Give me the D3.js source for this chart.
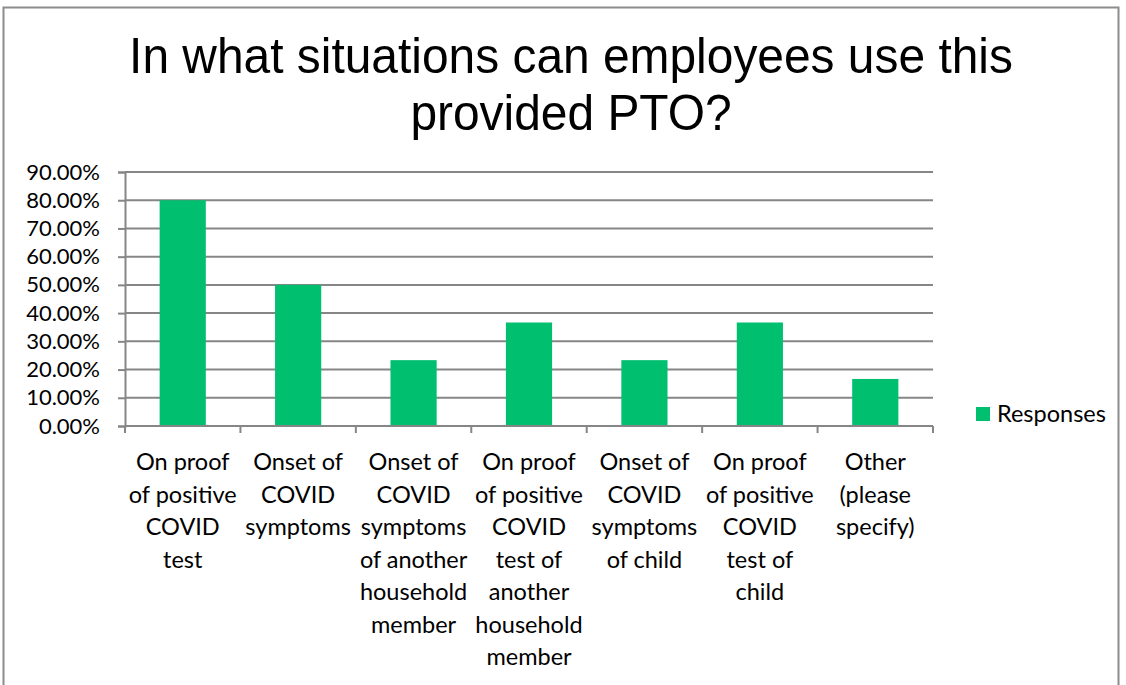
<!DOCTYPE html>
<html>
<head>
<meta charset="utf-8">
<script src="https://cdn.jsdelivr.net/npm/d3@7"></script>
<style>
  body { margin: 0; background: #fff; }
  svg { display: block; }
</style>
</head>
<body>
<div id="chart"></div>
<script>
// chart data
var titleLines = ["In what situations can employees use this", "provided PTO?"];
var categories = [
  ["On proof", "of positive", "COVID", "test"],
  ["Onset of", "COVID", "symptoms"],
  ["Onset of", "COVID", "symptoms", "of another", "household", "member"],
  ["On proof", "of positive", "COVID", "test of", "another", "household", "member"],
  ["Onset of", "COVID", "symptoms", "of child"],
  ["On proof", "of positive", "COVID", "test of", "child"],
  ["Other", "(please", "specify)"]
];
var responses = [0.80, 0.50, 0.2333, 0.3667, 0.2333, 0.3667, 0.1667];
var yTicks = [0, 0.1, 0.2, 0.3, 0.4, 0.5, 0.6, 0.7, 0.8, 0.9];
var seriesName = "Responses";

var W = 1126, H = 685;
var plotLeft = 125, plotRight = 933, plotTop = 172, plotBottom = 426;
var barColor = "#00bf6f";
var gridColor = "#868686";
var labelFont = "Lato, 'Open Sans', sans-serif";

var svg = d3.select("#chart").append("svg")
  .attr("width", W)
  .attr("height", H);

// outer frame
svg.append("rect")
  .attr("x", 3.5).attr("y", 7.5)
  .attr("width", 1115).attr("height", 700)
  .attr("fill", "#fff")
  .attr("stroke", "#8c8c8c")
  .attr("stroke-width", 2);

// title (slightly condensed like the original)
svg.append("g")
  .attr("transform", "translate(571,0) scale(0.958,1)")
  .selectAll("text")
  .data(titleLines)
  .enter().append("text")
  .attr("x", 0)
  .attr("y", function(d, i) { return 73 + i * 57; })
  .attr("text-anchor", "middle")
  .style("font-family", "'Liberation Sans', Arial, sans-serif")
  .style("font-size", "50px")
  .attr("fill", "#000")
  .text(function(d) { return d; });

var x = d3.scaleBand()
  .domain(d3.range(categories.length))
  .range([plotLeft, plotRight])
  .paddingInner(0.6)
  .paddingOuter(0.3);

var y = d3.scaleLinear()
  .domain([0, 0.9])
  .range([plotBottom, plotTop]);

// gridlines
svg.append("g").selectAll("line")
  .data(yTicks.slice(1))
  .enter().append("line")
  .attr("x1", plotLeft).attr("x2", plotRight)
  .attr("y1", function(d) { return y(d); })
  .attr("y2", function(d) { return y(d); })
  .attr("stroke", gridColor)
  .attr("stroke-width", 2);

// y axis
var yAxis = svg.append("g")
  .attr("transform", "translate(" + plotLeft + ",0)")
  .call(d3.axisLeft(y).tickValues(yTicks).tickSize(7).tickPadding(18)
    .tickFormat(function(d) { return (d * 100).toFixed(2) + "%"; }));
yAxis.select(".domain").attr("stroke", gridColor).attr("stroke-width", 2);
yAxis.selectAll(".tick line").attr("stroke", gridColor).attr("stroke-width", 2);
yAxis.selectAll(".tick text")
  .style("font-family", labelFont)
  .style("font-size", "22px")
  .attr("fill", "#000");

// bars
svg.append("g").selectAll("rect")
  .data(responses)
  .enter().append("rect")
  .attr("x", function(d, i) { return x(i); })
  .attr("y", function(d) { return y(d); })
  .attr("width", x.bandwidth())
  .attr("height", function(d) { return plotBottom - y(d); })
  .attr("fill", barColor);

// x axis line + ticks at band boundaries
svg.append("line")
  .attr("x1", plotLeft).attr("x2", plotRight)
  .attr("y1", plotBottom).attr("y2", plotBottom)
  .attr("stroke", gridColor).attr("stroke-width", 2);
var step = x.step();
svg.append("g").selectAll("line")
  .data(d3.range(categories.length + 1))
  .enter().append("line")
  .attr("x1", function(d) { return plotLeft + d * step; })
  .attr("x2", function(d) { return plotLeft + d * step; })
  .attr("y1", plotBottom).attr("y2", plotBottom + 7)
  .attr("stroke", gridColor).attr("stroke-width", 2);

// category labels
var catG = svg.append("g").selectAll("text")
  .data(categories)
  .enter().append("text")
  .attr("text-anchor", "middle")
  .style("font-family", labelFont)
  .style("font-size", "23.5px")
  .attr("fill", "#000");
catG.selectAll("tspan")
  .data(function(d, i) { return d.map(function(s) { return {s: s, i: i}; }); })
  .enter().append("tspan")
  .attr("x", function(d) { return x(d.i) + x.bandwidth() / 2; })
  .attr("y", function(d, j) { return 470 + j * 32.5; })
  .text(function(d) { return d.s; });

// legend
svg.append("rect")
  .attr("x", 976).attr("y", 407)
  .attr("width", 14).attr("height", 14)
  .attr("fill", barColor);
svg.append("text")
  .attr("x", 997).attr("y", 422)
  .style("font-family", labelFont)
  .style("font-size", "23.5px")
  .attr("fill", "#000")
  .text(seriesName);
</script>
</body>
</html>
